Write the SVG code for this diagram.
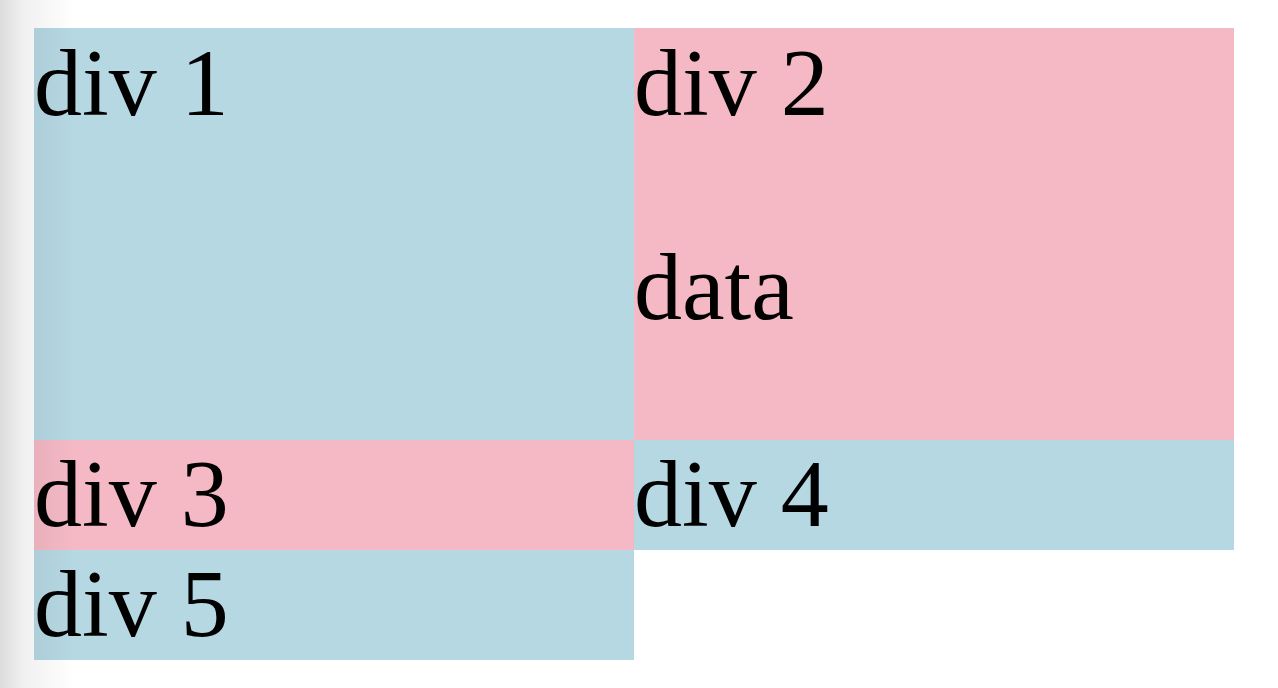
<svg xmlns="http://www.w3.org/2000/svg" width="1278" height="688" viewBox="0 0 1278 688">
<style>
.blue{fill:#b6d8e3}
.pink{fill:#f4b9c5}
.t{font-family:"Liberation Serif","Times New Roman",serif;font-size:96px;fill:#000}
</style>
<defs>
<linearGradient id="shade" x1="0" y1="0" x2="1" y2="0">
<stop offset="0" stop-color="#000" stop-opacity="0.14"/>
<stop offset="0.3" stop-color="#000" stop-opacity="0.06"/>
<stop offset="1" stop-color="#000" stop-opacity="0"/>
</linearGradient>
</defs>
<rect width="1278" height="688" fill="#fff"/>
<g id="div1"><rect class="blue" x="34" y="28" width="600" height="412"/><text class="t" x="34" y="115">div 1</text></g>
<g id="div2"><rect class="pink" x="634" y="28" width="600" height="412"/><text class="t" x="634" y="115">div 2</text><text class="t" x="634" y="319">data</text></g>
<g id="div3"><rect class="pink" x="34" y="440" width="600" height="110"/><text class="t" x="34" y="526">div 3</text></g>
<g id="div4"><rect class="blue" x="634" y="440" width="600" height="110"/><text class="t" x="634" y="526">div 4</text></g>
<g id="div5"><rect class="blue" x="34" y="550" width="600" height="110"/><text class="t" x="34" y="636">div 5</text></g>
<g id="connectors"></g>
<rect x="0" y="0" width="75" height="688" fill="url(#shade)"/>
</svg>
